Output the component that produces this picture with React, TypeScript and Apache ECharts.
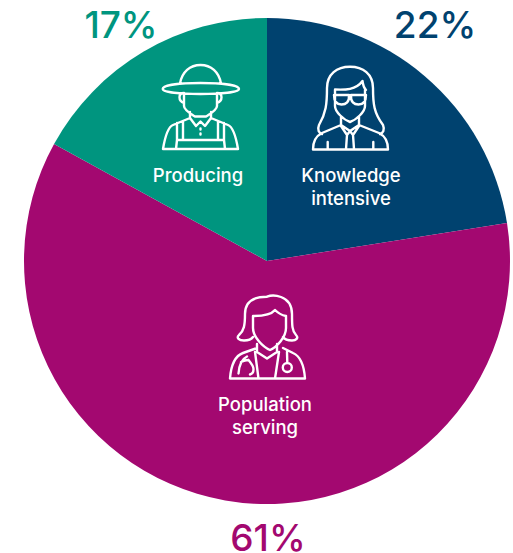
import React, { useEffect, useRef } from "react";
import * as echarts from "echarts";

const categories = ["Knowledge intensive", "Population serving", "Producing"];
const shares = [22.5, 60.5, 17];
const shareLabels = ["22%", "61%", "17%"];
const sliceColors = ["#00426f", "#a30870", "#00957f"];

const percentSpots = [
  { x: 435, y: 24 },
  { x: 268, y: 537 },
  { x: 121, y: 24 },
];

const FONT = "Inter";

const farmer =
  "M180 83.5C182 72 190 65 200.5 65C211 65 219 72 221 83.5" +
  "M162.7 89C162.7 85 180 83 200.5 83C221 83 239 85 239 89C239 92 221 94 200.5 94C180 94 162.7 92 162.7 89Z" +
  "M184 94L184 106C184 110 191 114 195 116.5L206 116.5C210 114 217 110 217 106L217 94" +
  "M184 93C178 93 178 101 184 103M217 93C223 93 223 101 217 103" +
  "M190 112L190 118L196 126L200.5 121.5L205 126L211 118L211 112" +
  "M190 118L173 125C168 127 165 137 163 149L238 149C236 137 233 127 228 125L211 118" +
  "M177 123L177 140L224 140L224 123M183 121L183 140M218 121L218 140M177 140L176 149M224 140L225 149" +
  "M200.5 128.5L200.5 129.5M200.5 133.5L200.5 134.5";

const professional =
  "M319 125C326 113 327 104 327 88C327 74 337 66.7 350 66.7C363 66.7 373 74 373 88C373 104 374 113 383 125C385 130 383 133 380 134" +
  "M319 125C317 130 319 133 322 134" +
  "M335 90L335 106C335 112 344 120 350 122C356 120 365 112 365 106L365 90" +
  "M335 89.5C345 90 356 90 362.5 81C363 85 364 88 366 90" +
  "M334 95L349 95C349.5 102 346 104.5 341.5 104.5C337 104.5 334 102 334 95ZM351 95L366 95C366 102 363 104.5 358.5 104.5C354 104.5 350.5 102 351 95Z" +
  "M341 117L341 125L350 131L359 125L359 117" +
  "M341 125L322 133C316 136 313 142 313 149.5L388 149.5C388 142 385 136 379 133L359 125" +
  "M341 126L347 135L350 131L353 135L359 126" +
  "M347 135L346 149M353 135L354 149M327.7 142L327.7 149M373.3 142L373.3 149";

const doctor =
  "M267 296.7C256 296.7 245 300 245 314C245 325 244 331 239 335C236 338 239 340.5 244 340.5C248 340.5 251 340 253 337" +
  "M267 296.7C271 295 277 295.5 281 297C289 300 292 306 292 314C292 325 292 331 296 335C299 338 296 340.5 292 340.5C288 340.5 285 340 283 337" +
  "M253 316L253 328C253 337 263 347 270 350C277 347 286 337 286 328L286 316" +
  "M253 316C262 316 271 315 275 310C278 313 281 315 286 316" +
  "M257 344L257 352L267 358.5L277 352L277 344" +
  "M257 348L243 353C235 356 231 365 230 378.5L305 378.5C304 365 300 356 293 353L283 348" +
  "M255 352L258.5 378.5M279 352L275 378.5" +
  "M247 356.5C242 359 239 366 238.5 373.5M248.5 360C251 363 253.5 366 253.5 369C253.5 372 252 374 250 374.5" +
  "M241 362C243 361 246 360 248.5 360" +
  "M287 352L287.3 363" +
  "M287.3 372A4.5 4.5 0 1 1 287.3 363A4.5 4.5 0 1 1 287.3 372";

echarts.graphic.registerShape("farmerIcon", echarts.graphic.extendPath(farmer, {}));
echarts.graphic.registerShape("professionalIcon", echarts.graphic.extendPath(professional, {}));
echarts.graphic.registerShape("doctorIcon", echarts.graphic.extendPath(doctor, {}));

const iconStyle = { fill: "none", stroke: "#ffffff", lineWidth: 2.4, lineCap: "round", lineJoin: "round" };

function inner(text: string, x: number, y: number) {
  return {
    type: "text",
    x,
    y,
    z: 10,
    style: {
      text,
      fill: "#ffffff",
      font: `500 18.5px ${FONT}`,
      textAlign: "center",
      textVerticalAlign: "middle",
    },
  };
}

export default function App() {
  const ref = useRef<HTMLDivElement>(null);
  useEffect(() => {
    document.body.style.margin = "0";
    const chart = echarts.init(ref.current!, null, { renderer: "svg" });
    chart.setOption({
      animation: false,
      backgroundColor: "#ffffff",
      series: [
        {
          type: "pie",
          center: [267, 261],
          radius: [0, 243],
          startAngle: 90,
          clockwise: true,
          silent: true,
          data: categories.map((name, i) => ({
            name,
            value: shares[i],
            itemStyle: { color: sliceColors[i] },
            label: { color: sliceColors[i] },
          })),
          label: {
            show: true,
            position: "outside",
            overflow: "none",
            formatter: (p: any) => shareLabels[p.dataIndex],
            fontFamily: FONT,
            fontSize: 37,
            lineHeight: 30,
            fontWeight: 500,
          },
          labelLine: { show: false },
          labelLayout: (p: any) => ({
            x: percentSpots[p.dataIndex].x,
            y: percentSpots[p.dataIndex].y,
            align: "center",
            verticalAlign: "middle",
          }),
        },
      ],
      graphic: [
        { type: "farmerIcon", z: 10, style: iconStyle },
        { type: "professionalIcon", z: 10, style: iconStyle },
        { type: "doctorIcon", z: 10, style: iconStyle },
        inner("Producing", 198, 175),
        inner("Knowledge", 351, 175),
        inner("intensive", 351, 198),
        inner("Population", 265, 404),
        inner("serving", 265, 427),
      ],
    });
    return () => chart.dispose();
  }, []);
  return <div ref={ref} style={{ width: 513, height: 553 }} />;
}
